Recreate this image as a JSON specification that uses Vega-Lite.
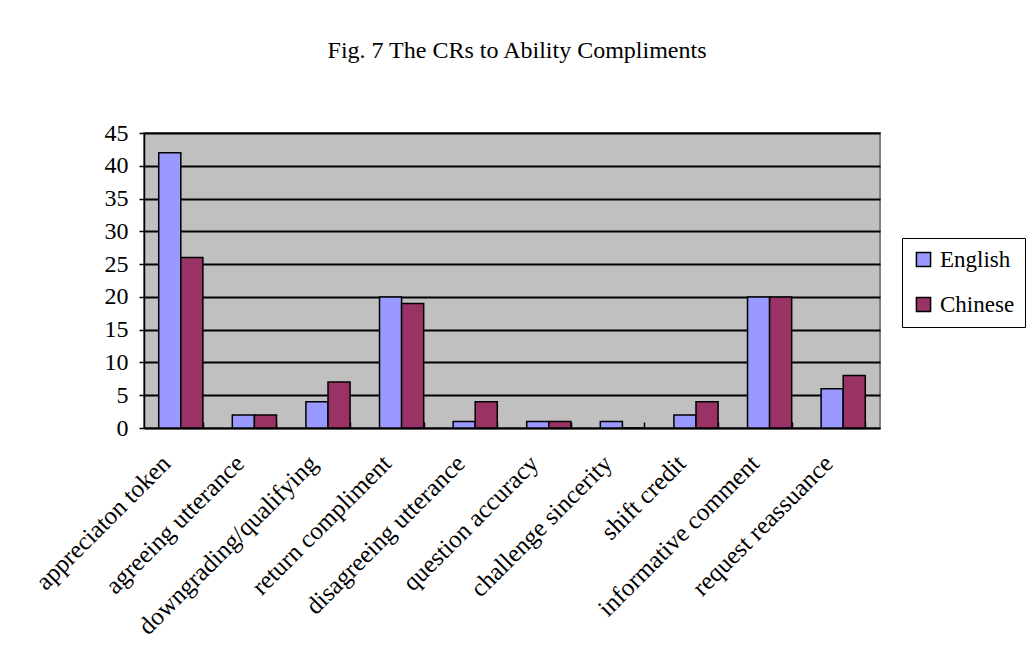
{
  "$schema": "https://vega.github.io/schema/vega-lite/v6.json",
  "autosize": "none",
  "width": 736,
  "height": 295,
  "padding": {"left": 144, "top": 133, "right": 146, "bottom": 234},
  "background": "white",
  "title": {
    "text": "Fig. 7 The CRs to Ability Compliments",
    "font": "Liberation Serif",
    "fontSize": 24,
    "fontWeight": "normal",
    "color": "black",
    "anchor": "middle",
    "offset": 58,
    "dx": 5
  },
  "data": {
    "values": [
      {"category": "appreciaton token", "lang": "English", "value": 42},
      {"category": "appreciaton token", "lang": "Chinese", "value": 26},
      {"category": "agreeing utterance", "lang": "English", "value": 2},
      {"category": "agreeing utterance", "lang": "Chinese", "value": 2},
      {"category": "downgrading/qualifying", "lang": "English", "value": 4},
      {"category": "downgrading/qualifying", "lang": "Chinese", "value": 7},
      {"category": "return compliment", "lang": "English", "value": 20},
      {"category": "return compliment", "lang": "Chinese", "value": 19},
      {"category": "disagreeing utterance", "lang": "English", "value": 1},
      {"category": "disagreeing utterance", "lang": "Chinese", "value": 4},
      {"category": "question accuracy", "lang": "English", "value": 1},
      {"category": "question accuracy", "lang": "Chinese", "value": 1},
      {"category": "challenge sincerity", "lang": "English", "value": 1},
      {"category": "challenge sincerity", "lang": "Chinese", "value": 0},
      {"category": "shift credit", "lang": "English", "value": 2},
      {"category": "shift credit", "lang": "Chinese", "value": 4},
      {"category": "informative comment", "lang": "English", "value": 20},
      {"category": "informative comment", "lang": "Chinese", "value": 20},
      {"category": "request reassuance", "lang": "English", "value": 6},
      {"category": "request reassuance", "lang": "Chinese", "value": 8}
    ]
  },
  "mark": {"type": "bar", "stroke": "black", "strokeWidth": 1.5},
  "encoding": {
    "x": {
      "field": "category",
      "type": "nominal",
      "sort": null,
      "scale": {"paddingInner": 0.4, "paddingOuter": 0.2},
      "axis": {
        "title": null,
        "labelAngle": -45,
        "labelAlign": "right",
        "labelBaseline": "middle",
        "labelFont": "Liberation Serif",
        "labelFontSize": 25,
        "labelColor": "black",
        "labelPadding": 37,
        "labelOffset": -15,
        "labelLimit": 400,
        "labelOverlap": false,
        "tickBand": "extent",
        "tickSize": -6,
        "tickColor": "black",
        "tickWidth": 1.5,
        "domainColor": "black",
        "domainWidth": 1.5,
        "grid": false
      }
    },
    "xOffset": {"field": "lang", "type": "nominal", "sort": ["English", "Chinese"], "scale": {"paddingInner": 0}},
    "y": {
      "field": "value",
      "type": "quantitative",
      "scale": {"domain": [0, 45]},
      "axis": {
        "title": null,
        "values": [0, 5, 10, 15, 20, 25, 30, 35, 40, 45],
        "labelFont": "Liberation Serif",
        "labelFontSize": 24,
        "labelColor": "black",
        "labelPadding": 11,
        "labelOverlap": false,
        "tickSize": 5,
        "tickColor": "black",
        "tickWidth": 1.5,
        "domainColor": "black",
        "domainWidth": 1.5,
        "gridColor": "black",
        "gridWidth": 2
      }
    },
    "color": {
      "field": "lang",
      "type": "nominal",
      "sort": ["English", "Chinese"],
      "scale": {"domain": ["English", "Chinese"], "range": ["#9999FF", "#993366"]},
      "legend": {
        "title": null,
        "orient": "none",
        "legendX": 758,
        "legendY": 105,
        "symbolType": "square",
        "symbolSize": 200,
        "symbolStrokeColor": "black",
        "symbolStrokeWidth": 1.5,
        "labelFont": "Liberation Serif",
        "labelFontSize": 23,
        "labelColor": "black",
        "labelOffset": 5,
        "rowPadding": 21,
        "padding": 10,
        "strokeColor": "black",
        "fillColor": "white"
      }
    }
  },
  "config": {
    "view": {"fill": "#C0C0C0", "stroke": "#808080", "strokeWidth": 2}
  }
}
